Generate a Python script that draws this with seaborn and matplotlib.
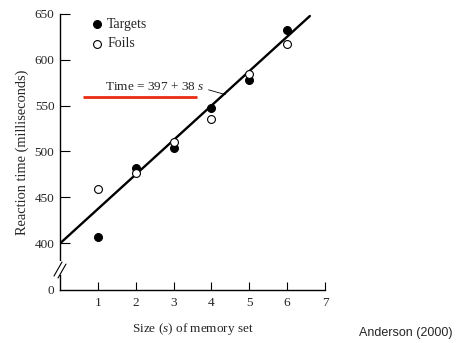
import numpy as np
import pandas as pd
import matplotlib
matplotlib.use("Agg")
import matplotlib.pyplot as plt
import seaborn as sns

# Data (Sternberg memory scanning)
set_size = [1, 2, 3, 4, 5, 6]
targets = [407, 482, 504, 547, 578, 632]
foils = [459, 477, 510, 535, 585, 617]

fit_intercept = 397
fit_slope = 38
fit_range = [0, 6.6]

y_ticks = [0, 400, 450, 500, 550, 600, 650]
x_ticks = [1, 2, 3, 4, 5, 6, 7]

# -----------------------------
# Style
# -----------------------------
sns.set_style("ticks")
plt.rcParams["font.family"] = ["Liberation Serif", "DejaVu Serif"]
plt.rcParams["mathtext.fontset"] = "custom"
plt.rcParams["mathtext.it"] = "Liberation Serif:italic"
plt.rcParams["mathtext.rm"] = "Liberation Serif"

fig = plt.figure(figsize=(4.57, 3.43), dpi=100)
ax = fig.add_axes([60 / 457, 53 / 343, 265 / 457, 276 / 343])


# broken y axis: squeeze 0-400 into a short stub
def fwd(v):
    v = np.asarray(v, dtype=float)
    return np.where(v >= 400, v, 400 - (400 - v) * 0.128)


def inv(u):
    u = np.asarray(u, dtype=float)
    return np.where(u >= 400, u, 400 - (400 - u) / 0.128)


ax.set_yscale("function", functions=(fwd, inv))

# -----------------------------
# Fit line + points
# -----------------------------
fit_df = pd.DataFrame({"s": fit_range})
fit_df["time"] = fit_intercept + fit_slope * fit_df["s"]
sns.lineplot(data=fit_df, x="s", y="time", color="black", lw=1.7, ax=ax, zorder=2)

sns.scatterplot(x=set_size, y=targets, color="black", edgecolor="black",
                s=32, linewidth=0.8, label="Targets", ax=ax, zorder=3)
sns.scatterplot(x=set_size, y=foils, color="white", edgecolor="black",
                s=32, linewidth=0.8, label="Foils", ax=ax, zorder=3)

# equation label with leader line
ax.annotate("Time = 397 + 38 $s$", xy=(4.37, 562), xytext=(1.18, 570),
            ha="left", va="center", fontsize=9.5,
            arrowprops=dict(arrowstyle="-", lw=0.6, color="black",
                            relpos=(1, 0.4), shrinkA=1, shrinkB=0))
ax.hlines(559, 0.6, 3.63, color="#ea2a12", lw=2)

# -----------------------------
# Axes
# -----------------------------
ax.set_xlim(0, 7)
ax.set_ylim(0, 650)
ax.set_xticks(x_ticks)
ax.set_yticks(y_ticks)
ax.tick_params(axis="both", direction="in", labelsize=9.5, width=0.8, color="black")
ax.tick_params(axis="y", length=7, pad=4)
ax.tick_params(axis="x", length=6, pad=5)
ax.yaxis.get_major_ticks()[0].tick1line.set_visible(False)
sns.despine(ax=ax)
for sp in ["left", "bottom"]:
    ax.spines[sp].set_linewidth(1.0)
    ax.spines[sp].set_color("black")

ax.set_xlabel("Size ($s$) of memory set", fontsize=9.5, labelpad=9)
ax.set_ylabel("Reaction time (milliseconds)", fontsize=10.4, labelpad=4)

# break marks on the y axis
ta = ax.transAxes
ax.plot([0, 0], [0.055, 0.105], transform=ta, color="white", lw=3,
        clip_on=False, zorder=4, solid_capstyle="butt")
ax.plot([-0.0226, 0.0075], [0.0507, 0.1014], transform=ta, color="black",
        lw=0.8, clip_on=False, zorder=5)
ax.plot([-0.0075, 0.0226], [0.0435, 0.094], transform=ta, color="black",
        lw=0.8, clip_on=False, zorder=5)

ax.legend(loc="upper left", bbox_to_anchor=(0.113, 0.985), frameon=False,
          fontsize=10, borderaxespad=0, borderpad=0, handlelength=1,
          handletextpad=0.25, labelspacing=0.45)

fig.text(0.99, 0.029, "Anderson (2000)", ha="right", va="center",
         fontsize=9, family="Liberation Sans")

fig.savefig("out.png", dpi=100)
